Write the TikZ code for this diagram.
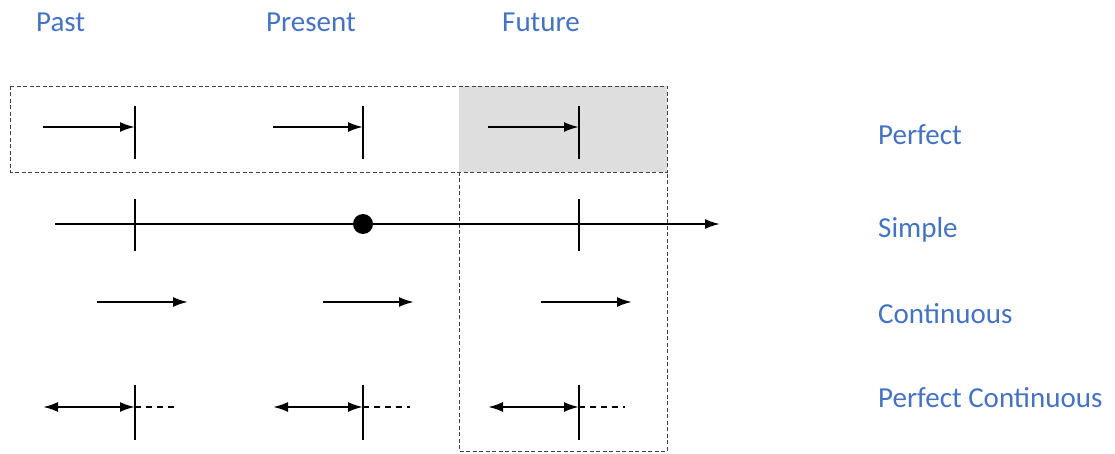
\documentclass[tikz,border=0pt]{standalone}
\usepackage{fontspec}
\setmainfont{Carlito}
\usetikzlibrary{arrows.meta}
\definecolor{lblue}{HTML}{4472C4}
\definecolor{boxgray}{HTML}{DEDEDE}
\tikzset{
  lbl/.style={text=lblue, font=\fontsize{29}{32}\selectfont, inner sep=0pt, anchor=west},
  dashbox/.style={draw=black!75, dashed, dash pattern=on 4pt off 2.5pt, line width=0.9pt},
  arr/.style={line width=2.2pt, -{Latex[length=15pt,width=10pt]}},
  darr/.style={line width=2.2pt, {Latex[length=15pt,width=10pt]}-{Latex[length=15pt,width=10pt]}},
  tick/.style={line width=2.2pt},
  dsh/.style={line width=2.2pt, dash pattern=on 6pt off 5pt},
}
\begin{document}
\begin{tikzpicture}[x=1pt,y=-1pt]
\useasboundingbox (0,0) rectangle (1115,454);
% boxes
\fill[boxgray] (459,86) rectangle (667,172);
\draw[dashbox] (10,86) rectangle (667,172);
\draw[dashbox] (459,172) -- (459,451) -- (667,451) -- (667,172);
% headers
\node[lbl] (past) at (36,22) {Past};
\node[lbl] (present) at (266,22) {Present};
\node[lbl] (future) at (502,22) {Future};
% row labels
\node[lbl] (perfect) at (878,135) {Perfect};
\node[lbl] (simple) at (878,230) {Simple};
\node[lbl] (cont) at (878,314) {Continuous};
\node[lbl] (pcont) at (878,398) {Perfect Continuous};
% perfect row
\foreach \n/\a/\b in {pa/43/135, pr/273/363, fu/488/579}{
  \coordinate (\n s) at (\a,127);
  \coordinate (\n e) at (\b,127);
  \coordinate (\n t) at (\b,106);
  \coordinate (\n b) at (\b,159);
  \draw[arr] (\n s) -- (\n e);
  \draw[tick] (\n t) -- (\n b);
}
% simple row
\coordinate (ss) at (55,224);
\coordinate (se) at (720,224);
\draw[arr] (ss) -- (se);
\foreach \n/\x in {spa/135, sfu/579}{
  \coordinate (\n t) at (\x,199);
  \coordinate (\n b) at (\x,251);
  \draw[tick] (\n t) -- (\n b);
}
\node[circle, fill=black, minimum size=20pt, inner sep=0pt] (now) at (363,224) {};
% continuous row
\foreach \n/\a/\b in {cpa/97/188, cpr/323/414, cfu/541/632}{
  \coordinate (\n s) at (\a,302);
  \coordinate (\n e) at (\b,302);
  \draw[arr] (\n s) -- (\n e);
}
% perfect continuous row
\foreach \n/\a/\b/\c in {qpa/43/135/178, qpr/273/363/410, qfu/488/579/625}{
  \coordinate (\n s) at (\a,407);
  \coordinate (\n e) at (\b,407);
  \coordinate (\n d) at (\c,407);
  \coordinate (\n t) at (\b,385);
  \coordinate (\n b) at (\b,440);
  \draw[darr] (\n s) -- (\n e);
  \draw[dsh] (\n e) -- (\n d);
  \draw[tick] (\n t) -- (\n b);
}
\end{tikzpicture}
\end{document}
